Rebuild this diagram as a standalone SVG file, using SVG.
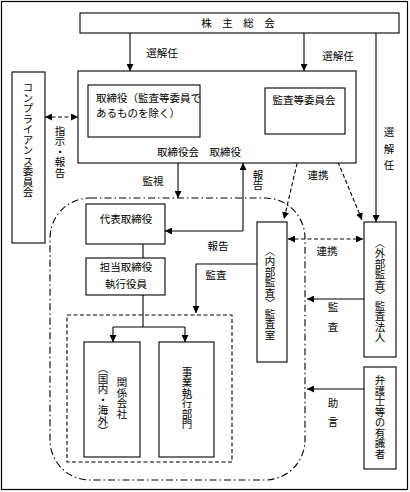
<svg xmlns="http://www.w3.org/2000/svg" width="410" height="492" viewBox="0 0 410 492">
<style>
.b{fill:#fff;stroke:#000;stroke-width:1.1}
.t{font-family:"Noto Sans CJK JP","Noto Sans CJK SC",sans-serif;font-size:10.5px;fill:#000}
.v{writing-mode:vertical-rl;text-anchor:middle}
.m{text-anchor:middle}
.l{fill:none;stroke:#000;stroke-width:1.1}
.d{stroke-dasharray:4 2.5}
</style>
<defs>
<marker id="a" viewBox="0 0 8 8" refX="8" refY="4" markerWidth="7" markerHeight="7" markerUnits="userSpaceOnUse" orient="auto-start-reverse">
<path d="M0,0 L8,4 L0,8 z" fill="#000"/>
</marker>
</defs>
<rect x="1.5" y="1.5" width="406" height="488" fill="#fff" stroke="#000" stroke-width="1.2"/>
<g id="frames">
<rect x="50" y="198" width="255" height="282" rx="40" fill="none" stroke="#000" stroke-width="1.1" stroke-dasharray="7 3 1.5 3"/>
<rect x="67" y="315" width="165" height="147" fill="none" stroke="#000" stroke-width="1.1" stroke-dasharray="4 2.5"/>
</g>
<g id="connectors">
<line class="l" x1="130" y1="33" x2="130" y2="71" marker-end="url(#a)"/>
<line class="l" x1="304" y1="33" x2="304" y2="71" marker-end="url(#a)"/>
<line class="l" x1="376" y1="33" x2="376" y2="222" marker-end="url(#a)"/>
<line class="l" x1="265" y1="117" x2="200" y2="117" marker-end="url(#a)"/>
<line class="l d" x1="45" y1="117" x2="78" y2="117" marker-start="url(#a)" marker-end="url(#a)"/>
<line class="l" x1="178" y1="163" x2="178" y2="198" marker-end="url(#a)"/>
<line class="l" x1="243" y1="231" x2="243" y2="163" marker-end="url(#a)"/>
<line class="l" x1="243" y1="231" x2="165" y2="231" marker-end="url(#a)"/>
<line class="l" x1="143" y1="244" x2="143" y2="258"/>
<line class="l" x1="143" y1="295" x2="143" y2="327"/>
<line class="l" x1="113" y1="327" x2="185" y2="327"/>
<line class="l" x1="113" y1="327" x2="113" y2="342" marker-end="url(#a)"/>
<line class="l" x1="185" y1="327" x2="185" y2="342" marker-end="url(#a)"/>
<polyline class="l" points="257,264 196,264 196,313" marker-end="url(#a)"/>
<line class="l d" x1="303" y1="138" x2="284" y2="219" marker-start="url(#a)" marker-end="url(#a)"/>
<line class="l d" x1="328" y1="138" x2="362" y2="220" marker-start="url(#a)" marker-end="url(#a)"/>
<line class="l d" x1="288" y1="239" x2="363" y2="239" marker-start="url(#a)" marker-end="url(#a)"/>
<line class="l" x1="364" y1="299" x2="307" y2="299" marker-end="url(#a)"/>
<line class="l" x1="364" y1="389" x2="307" y2="389" marker-end="url(#a)"/>
</g>
<g id="labels">
<text class="t m" x="162" y="57">選解任</text>
<text class="t m" x="338" y="60">選解任</text>
<text class="t m" x="389" y="136">選</text>
<text class="t m" x="389" y="153">解</text>
<text class="t m" x="389" y="169">任</text>
<text class="t m" x="231" y="104" font-size="11">監督・監査</text>
<text class="t v" x="60" y="152">指示・報告</text>
<text class="t m" x="153" y="185">監視</text>
<text class="t v" x="258" y="180">報告</text>
<text class="t m" x="218" y="250">報告</text>
<text class="t m" x="216" y="279">監査</text>
<text class="t m" x="318" y="179">連携</text>
<text class="t m" x="327" y="255">連携</text>
<text class="t m" x="333" y="311">監</text>
<text class="t m" x="333" y="331">査</text>
<text class="t m" x="333" y="407">助</text>
<text class="t m" x="333" y="426">言</text>
</g>
<g id="shareholders">
<rect class="b" x="80" y="13" width="319" height="20"/>
<text class="t m" x="238" y="27" font-size="11.5">株　主　総　会</text>
</g>
<g id="board">
<rect class="b" x="78" y="71" width="278" height="92"/>
<text class="t m" x="199" y="156">取締役会　取締役</text>
</g>
<g id="directors">
<rect class="b" x="88" y="85" width="112" height="52"/>
<text class="t" x="96" y="102" font-size="10">取締役（監査等委員で</text>
<text class="t" x="96" y="117" font-size="10">あるものを除く）</text>
</g>
<g id="audit-committee">
<rect class="b" x="265" y="88" width="80" height="46"/>
<text class="t m" x="304" y="104" font-size="10">監査等委員会</text>
</g>
<g id="compliance">
<rect class="b" x="12" y="72" width="33" height="171"/>
<text class="t v" x="28" y="140" font-size="10">コンプライアンス委員会</text>
</g>
<g id="ceo">
<rect class="b" x="86" y="204" width="79" height="40"/>
<text class="t m" x="126" y="223">代表取締役</text>
</g>
<g id="exec">
<rect class="b" x="86" y="258" width="79" height="37"/>
<text class="t m" x="126" y="271">担当取締役</text>
<text class="t m" x="126" y="288">執行役員</text>
</g>
<g id="affiliates">
<rect class="b" x="84" y="342" width="56" height="115"/>
<text class="t v" x="122" y="398" font-size="11">関係会社</text>
<text class="t v" x="103" y="400" font-size="9.5">（国内・海外）</text>
</g>
<g id="business">
<rect class="b" x="159" y="342" width="55" height="115"/>
<text class="t v" x="187" y="398" font-size="10">事業執行部門</text>
</g>
<g id="internal-audit">
<rect class="b" x="257" y="222" width="30" height="140"/>
<text class="t v" x="270" y="293" font-size="10">〈内部監査〉監査室</text>
</g>
<g id="external-audit">
<rect class="b" x="364" y="222" width="32" height="135"/>
<text class="t v" x="380" y="290" font-size="10">〈外部監査〉監査法人</text>
</g>
<g id="lawyers">
<rect class="b" x="364" y="367" width="32" height="102"/>
<text class="t v" x="380" y="417" font-size="11">弁護士等の有識者</text>
</g>
</svg>
